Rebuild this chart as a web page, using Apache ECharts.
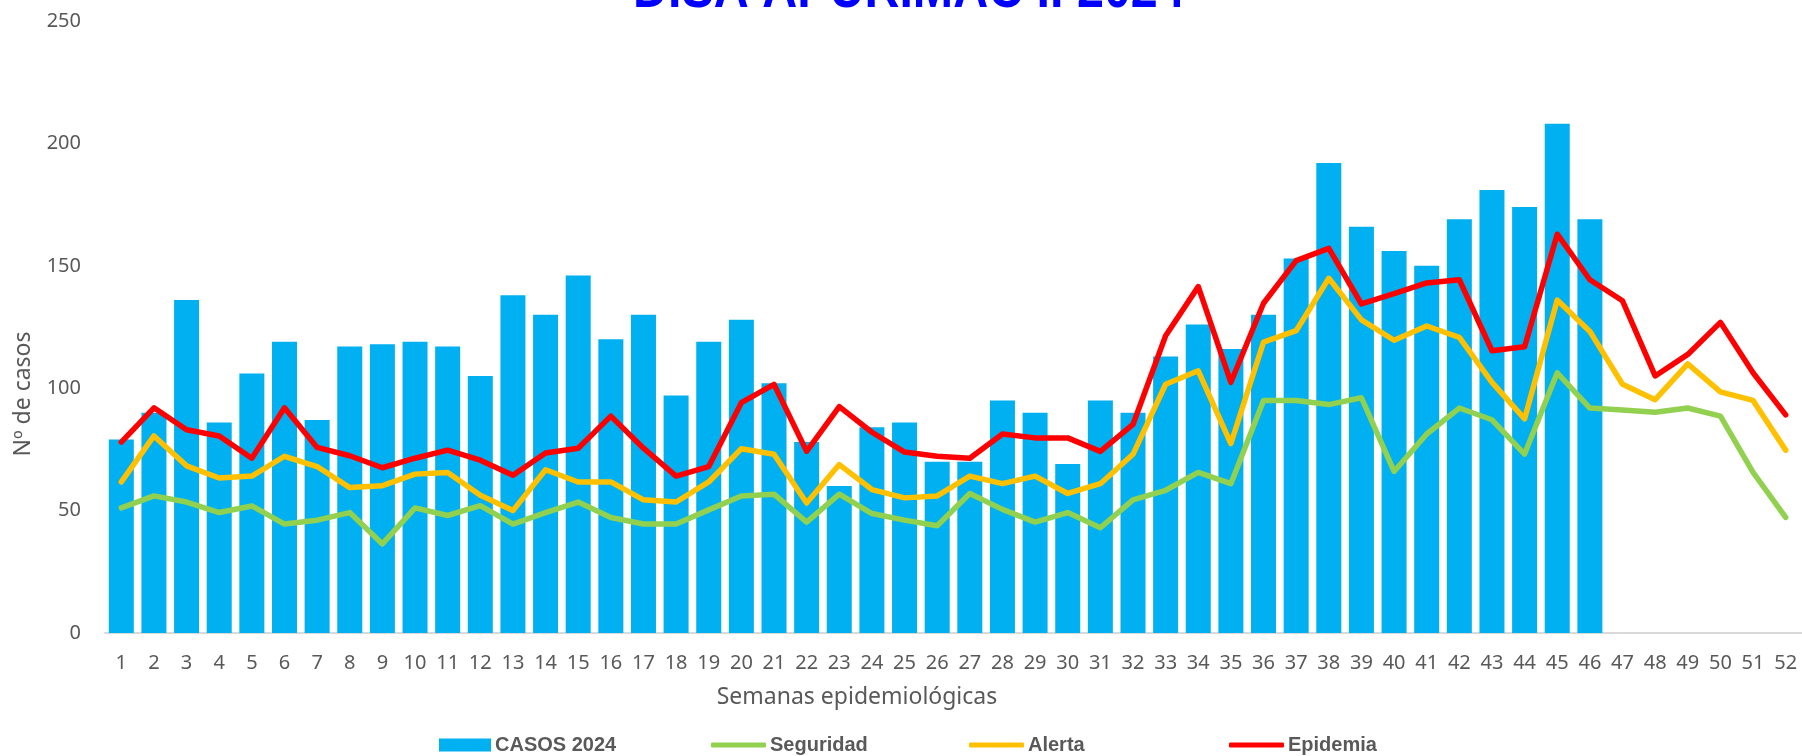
<!DOCTYPE html>
<html>
<head>
<meta charset="utf-8">
<title>DISA APURIMAC II 2024</title>
<script src="https://cdn.jsdelivr.net/npm/echarts@6/dist/echarts.min.js"></script>
<style>
  html, body { margin: 0; padding: 0; background: #fff; }
  #main { width: 1802px; height: 756px; }
</style>
</head>
<body>
<div id="main"></div>
<script>
// semanas epidemiologicas
const semanas = ['1','2','3','4','5','6','7','8','9','10','11','12','13','14','15','16','17','18','19','20',
  '21','22','23','24','25','26','27','28','29','30','31','32','33','34','35','36','37','38','39','40',
  '41','42','43','44','45','46','47','48','49','50','51','52'];

// casos 2024 (hasta la semana 46)
const casos2024 = [79, 90, 136, 86, 106, 119, 87, 117, 118, 119, 117, 105, 138, 130,
  146, 120, 130, 97, 119, 128, 102, 78, 60, 84, 86, 70,
  70, 95, 90, 69, 95, 90, 113, 126, 116, 130, 153, 192,
  166, 156, 150, 169, 181, 174, 208, 169];

// canal endemico
const seguridad = [51.1, 56, 53.5, 49.2, 51.9, 44.5, 46.1, 49.2, 36.4, 51.1, 48, 52, 44.5, 49.2,
  53.5, 47.2, 44.5, 44.5, 50.3, 56, 56.7, 45.3, 56.7, 48.8, 46.1, 43.8,
  57, 50.5, 45.3, 49.2, 43, 54.4, 58.3, 65.6, 61, 95, 95, 93.3,
  96.1, 66, 81.3, 91.9, 87.1, 73.1, 106.3, 91.9, 91.1, 90.2, 91.9, 88.6, 65.6, 47.2];

const alerta = [61.7, 80.5, 68.3, 63.3, 64.1, 72.2, 68, 59.4, 60.2, 64.9, 65.6, 56.3, 50, 66.7,
  61.7, 61.7, 54.4, 53.5, 61.7, 75.3, 73, 53.1, 68.8, 58.6, 55.2, 56,
  64.1, 61, 64.1, 57, 61, 73, 101.6, 107.1, 77.4, 118.8, 123.5, 144.9,
  127.9, 119.6, 125.4, 120.8, 102.4, 87.5, 136, 123.2, 101.6, 95.3, 109.9, 98.5, 95, 74.7];

const epidemia = [78, 92, 83, 80.5, 71.4, 92, 75.8, 72.4, 67.5, 71.4, 74.7, 70.6, 64.4, 73.5,
  75.5, 88.6, 75.5, 64.1, 68, 94.1, 101.6, 74.2, 92.5, 82, 73.9, 72.2,
  71.4, 81.3, 79.7, 79.7, 74.2, 85.2, 121.4, 141.5, 102.4, 134.7, 152.1, 157.1,
  134.4, 138.6, 143, 144.3, 115.3, 116.9, 162.9, 144.3, 135.7, 105, 113.8, 126.9, 106.3, 89.1];

const chart = echarts.init(document.getElementById('main'));

const gris = '#595959';
const fuente = '"Noto Sans", "Open Sans", sans-serif';
const fuenteNegrita = '"Liberation Sans", Arial, sans-serif';

function linea(nombre, datos, color) {
  return {
    name: nombre,
    type: 'line',
    data: datos,
    symbol: 'none',
    z: 3,
    lineStyle: { color: color, width: 5.5, cap: 'round', join: 'round' },
    itemStyle: { color: color }
  };
}

// una leyenda por item para repartirlas como en Excel
function leyenda(nombre, x, icono, alto, ancho) {
  return {
    data: [{ name: nombre, icon: icono }],
    left: x,
    top: 735,
    padding: 0,
    itemWidth: ancho,
    itemHeight: alto,
    itemGap: 0,
    textStyle: { color: gris, fontFamily: fuenteNegrita, fontWeight: 'bold', fontSize: 20, padding: [0, 0, 0, -1] }
  };
}

const option = {
  animation: false,
  backgroundColor: '#fff',
  grid: { left: 105, right: 0, top: 21, bottom: 123, containLabel: false },
  legend: [
    leyenda('CASOS 2024', 439, 'rect', 13, 52),
    leyenda('Seguridad', 711, 'roundRect', 5, 55),
    leyenda('Alerta', 969, 'roundRect', 5, 55),
    leyenda('Epidemia', 1229, 'roundRect', 5, 55)
  ],
  graphic: [
    {
      type: 'text',
      x: 633, y: 20,
      scaleX: 0.835,
      style: {
        text: 'DISA APURIMAC II 2024',
        fill: '#0000FF', font: 'bold 58px ' + fuenteNegrita,
        align: 'left', verticalAlign: 'bottom'
      }
    },
    {
      type: 'text',
      x: 857, y: 697,
      style: {
        text: 'Semanas epidemiológicas',
        fill: gris, font: '23px ' + fuente,
        align: 'center', verticalAlign: 'middle'
      }
    },
    {
      type: 'text',
      x: 23, y: 394,
      rotation: Math.PI / 2,
      style: {
        text: 'Nº de casos',
        fill: gris, font: '23px ' + fuente,
        align: 'center', verticalAlign: 'middle'
      }
    }
  ],
  xAxis: {
    type: 'category',
    data: semanas,
    axisLine: { lineStyle: { color: '#D9D9D9', width: 2 } },
    axisTick: { show: false },
    axisLabel: { color: gris, fontFamily: fuente, fontSize: 20, margin: 20, interval: 0 }
  },
  yAxis: {
    type: 'value',
    min: 0,
    max: 250,
    interval: 50,
    axisLine: { show: false },
    axisTick: { show: false },
    splitLine: { show: false },
    axisLabel: { color: gris, fontFamily: fuente, fontSize: 20, margin: 24 }
  },
  series: [
    {
      name: 'CASOS 2024',
      type: 'bar',
      data: casos2024,
      barWidth: 25,
      itemStyle: { color: '#00B0F0' }
    },
    linea('Seguridad', seguridad, '#92D050'),
    linea('Alerta', alerta, '#FFC000'),
    linea('Epidemia', epidemia, '#FF0000')
  ]
};

chart.setOption(option);
</script>
</body>
</html>
